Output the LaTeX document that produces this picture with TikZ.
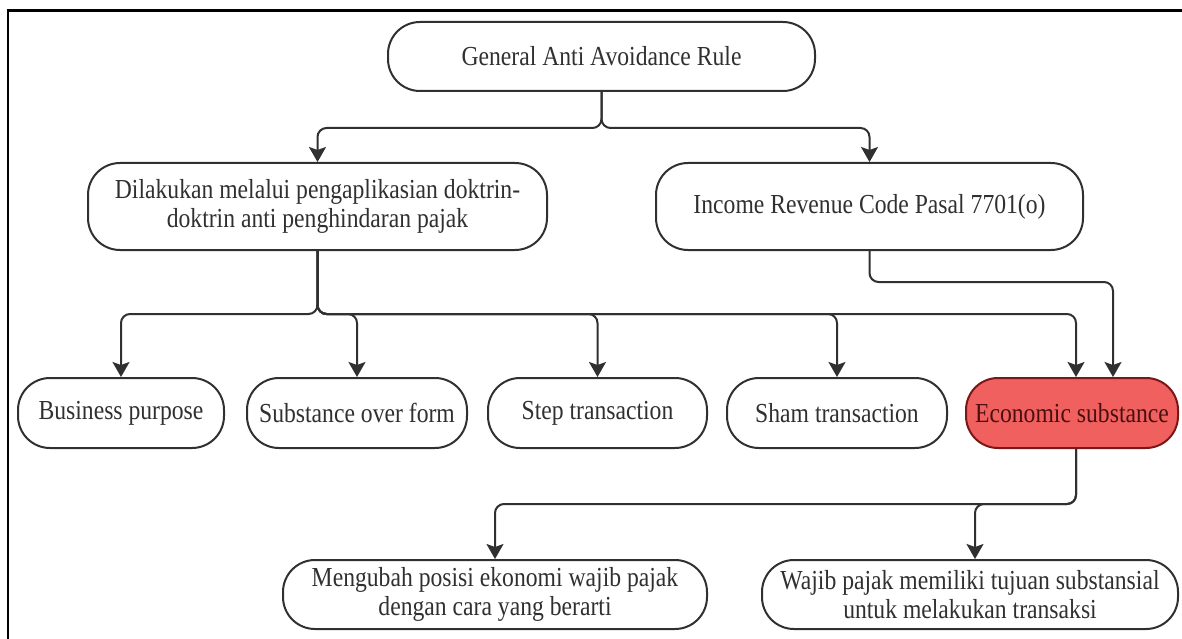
\documentclass[tikz,border=0pt]{standalone}
\usepackage{fontspec}
\setmainfont[FakeStretch=0.86]{Liberation Serif}
\usetikzlibrary{arrows.meta,calc}
\definecolor{ln}{HTML}{303030}
\definecolor{redfill}{HTML}{F0605E}
\definecolor{redline}{HTML}{7A1818}
\definecolor{redtext}{HTML}{4A0F0F}
\tikzset{
  box/.style={draw=ln, line width=2pt, rectangle, rounded corners=32pt, align=center,
    inner sep=0pt, font=\fontsize{27.5}{29.5}\selectfont, text=ln},
  arr/.style={draw=ln, line width=2pt, rounded corners=9pt,
    -{Stealth[length=15pt,width=17pt,inset=3pt]}},
  hl/.style={fill=redfill, draw=redline, text=redtext}
}
\begin{document}
\begin{tikzpicture}[x=1pt,y=-1pt]
\useasboundingbox (0,0) rectangle (1182,639);
\draw[line width=2.2pt,black] (8,639) -- (8,10.5) -- (1182,10.5);

\node[box, minimum width=427pt, minimum height=69pt] (top) at (601.5,56.5) {General Anti Avoidance Rule};
\node[box, minimum width=459pt, minimum height=87pt] (dil) at (317.5,206.5) {Dilakukan melalui pengaplikasian doktrin-\\doktrin anti penghindaran pajak};
\node[box, minimum width=427pt, minimum height=87pt] (inc) at (869.5,206.5) {Income Revenue Code Pasal 7701(o)};

\node[box, minimum width=206pt, minimum height=70pt] (bp) at (121,413) {Business purpose};
\node[box, minimum width=220pt, minimum height=70pt] (sof) at (357,413) {Substance over form};
\node[box, minimum width=219pt, minimum height=70pt] (st) at (597.5,413) {Step transaction};
\node[box, minimum width=220pt, minimum height=70pt] (sh) at (837,413) {Sham transaction};
\node[box, hl, minimum width=212pt, minimum height=70pt] (es) at (1072,413) {Economic substance};

\node[box, minimum width=424pt, minimum height=69pt] (m1) at (495,594.5) {Mengubah posisi ekonomi wajib pajak\\dengan cara yang berarti};
\node[box, minimum width=416pt, minimum height=69pt] (m2) at (970,594.5) {Wajib pajak memiliki tujuan substansial\\untuk melakukan transaksi};

% top split
\draw[arr] (top.south) -- ++(0,36) -| (dil.north);
\draw[arr] (top.south) -- ++(0,36) -| (inc.north);

% doctrine bus
\draw[arr] (dil.south) -- ++(0,63) -| (bp.north);
\draw[arr] (dil.south) -- ++(0,63) -| (sof.north);
\draw[arr] (dil.south) -- ++(0,63) -| (st.north);
\draw[arr] (dil.south) -- ++(0,63) -| (sh.north);
\draw[arr] (dil.south) -- ++(0,63) -| ([xshift=4pt]es.north);

% income to economic substance
\draw[arr] (inc.south) -- ++(0,31) -| ([xshift=41pt]es.north);

% economic substance to results
\draw[arr] ([xshift=4pt]es.south) -- ++(0,55) -| (m1.north);
\draw[arr] ([xshift=4pt]es.south) -- ++(0,55) -| ([xshift=5pt]m2.north);
\end{tikzpicture}
\end{document}
